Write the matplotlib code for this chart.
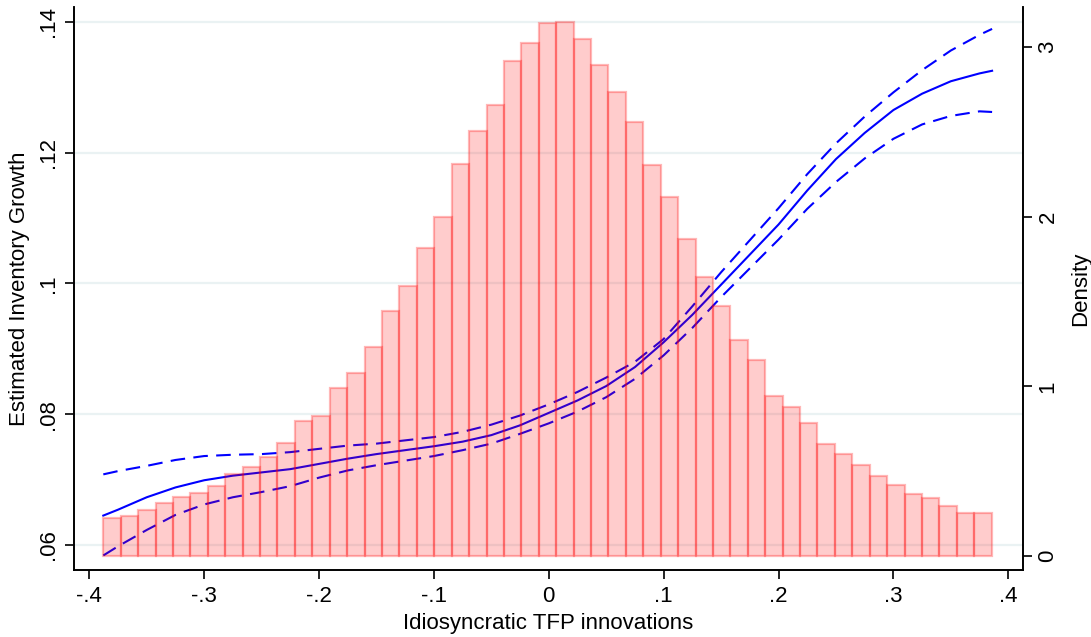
import numpy as np
import matplotlib
matplotlib.use("Agg")
import matplotlib.pyplot as plt

plt.rcParams['font.family'] = ['Liberation Sans', 'DejaVu Sans']

# ---- data ----
density = [0.222, 0.238, 0.273, 0.314, 0.350, 0.373, 0.414, 0.483, 0.526, 0.585,
           0.668, 0.797, 0.827, 0.992, 1.076, 1.233, 1.444, 1.591, 1.813, 2.000,
           2.308, 2.504, 2.659, 2.919, 3.025, 3.139, 3.147, 3.048, 2.895, 2.736,
           2.557, 2.306, 2.115, 1.870, 1.646, 1.475, 1.273, 1.155, 0.945, 0.878,
           0.784, 0.662, 0.603, 0.534, 0.473, 0.420, 0.367, 0.342, 0.295, 0.251,
           0.251]
hist_lo, hist_hi = -0.3878, 0.3855

x_fit = [-0.3878, -0.375, -0.35, -0.325, -0.30, -0.275, -0.25, -0.225, -0.20,
         -0.175, -0.15, -0.125, -0.10, -0.075, -0.05, -0.025, 0.0, 0.025, 0.05,
         0.075, 0.10, 0.125, 0.15, 0.175, 0.20, 0.225, 0.25, 0.275, 0.30, 0.325,
         0.35, 0.375, 0.3859]
fit = [0.0645, 0.0654, 0.0673, 0.0688, 0.0699, 0.0706, 0.0711, 0.0716, 0.0724,
       0.0732, 0.0739, 0.0745, 0.0751, 0.0758, 0.0768, 0.0783, 0.0802, 0.0821,
       0.0843, 0.0872, 0.0910, 0.0952, 0.0998, 0.1044, 0.1090, 0.1142, 0.1190,
       0.1230, 0.1265, 0.1290, 0.1309, 0.1321, 0.1325]
ci_hi = [0.0708, 0.0713, 0.0721, 0.0730, 0.0736, 0.0738, 0.0739, 0.0742, 0.0747,
         0.0752, 0.0755, 0.0760, 0.0765, 0.0773, 0.0784, 0.0798, 0.0815, 0.0834,
         0.0856, 0.0880, 0.0915, 0.0965, 0.1017, 0.1066, 0.1115, 0.1167, 0.1214,
         0.1255, 0.1292, 0.1326, 0.1356, 0.1380, 0.1389]
ci_lo = [0.0584, 0.0598, 0.0623, 0.0646, 0.0662, 0.0673, 0.0681, 0.0690, 0.0703,
         0.0714, 0.0722, 0.0729, 0.0736, 0.0745, 0.0755, 0.0770, 0.0786, 0.0804,
         0.0826, 0.0854, 0.0890, 0.0932, 0.0979, 0.1023, 0.1067, 0.1114, 0.1155,
         0.1191, 0.1221, 0.1243, 0.1256, 0.1263, 0.1262]

x_ticks = [-0.4, -0.3, -0.2, -0.1, 0.0, 0.1, 0.2, 0.3, 0.4]
x_ticklabels = ['-.4', '-.3', '-.2', '-.1', '0', '.1', '.2', '.3', '.4']
y_ticks = [0.06, 0.08, 0.10, 0.12, 0.14]
y_ticklabels = ['.06', '.08', '.1', '.12', '.14']
d_ticks = [0, 1, 2, 3]
d_ticklabels = ['0', '1', '2', '3']

# ---- figure ----
fig = plt.figure(figsize=(10.91, 6.37), dpi=100)
ax = fig.add_axes([74/1091, 1 - 570/637, (1023 - 74)/1091, (570 - 7)/637])
ax2 = ax.twinx()

ax.set_xlim(-0.4133, 0.4128)
ax.set_ylim(0.05618, 0.14225)
ax2.set_ylim(-0.0825, 3.236)

# gridlines
ax.set_yticks(y_ticks)
ax.set_yticklabels(y_ticklabels, rotation=90, va='center')
ax.yaxis.grid(True, color='#eaf2f3', lw=1.6)
ax.set_axisbelow(True)

blue = '#0000ff'
ax.plot(x_fit, fit, color=blue, lw=1.5, zorder=3)
ax.plot(x_fit, ci_hi, color=blue, lw=1.5, dashes=(7, 4), zorder=3)
ax.plot(x_fit, ci_lo, color=blue, lw=1.5, dashes=(7, 4), zorder=3)

edges = np.linspace(hist_lo, hist_hi, len(density) + 1)
ax2.bar(edges[:-1], density, width=np.diff(edges), align='edge',
        facecolor=(1, 0, 0, 0.2), edgecolor=(1, 0, 0, 0.28), linewidth=1.6)

ax.set_xticks(x_ticks)
ax.set_xticklabels(x_ticklabels)
ax2.set_yticks(d_ticks)
ax2.set_yticklabels(d_ticklabels, rotation=90, va='center')

for a in (ax, ax2):
    a.spines['top'].set_visible(False)
    for s in ('left', 'right', 'bottom'):
        a.spines[s].set_linewidth(1.2)
        a.spines[s].set_color('black')
    a.tick_params(direction='out', length=6.5, width=1.2, labelsize=16, colors='black')
ax.tick_params(axis='x', pad=5)
ax.tick_params(axis='y', pad=4)
ax2.tick_params(axis='y', pad=4)

ax.set_xlabel('Idiosyncratic TFP innovations', fontsize=16, labelpad=4)
ax.set_ylabel('Estimated Inventory Growth', fontsize=16, labelpad=6)
ax2.set_ylabel('Density', fontsize=16, rotation=90, labelpad=8)

fig.savefig('out.png', dpi=100)
